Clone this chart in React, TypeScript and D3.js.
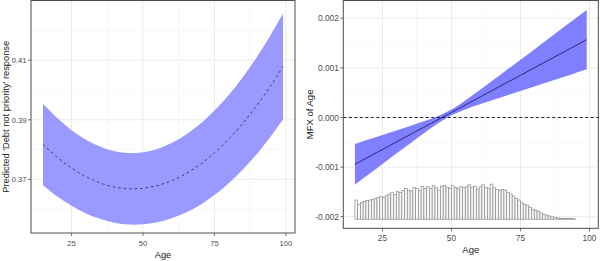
import React from 'react';
import * as d3 from 'd3';

// ---- data ----
const ages = [15, 20, 25, 30, 35, 40, 45, 50, 55, 60, 65, 70, 75, 80, 85, 90, 95, 99];
const predFit = [0.3817, 0.3774, 0.3738, 0.3709, 0.3688, 0.3674, 0.3668, 0.367, 0.3679, 0.3695, 0.3719, 0.375, 0.3789, 0.3835, 0.3889, 0.395, 0.4019, 0.4079];
const predLower = [0.368, 0.3642, 0.3611, 0.3585, 0.3567, 0.3554, 0.3548, 0.3549, 0.3556, 0.3569, 0.3588, 0.3614, 0.3647, 0.3687, 0.3734, 0.3787, 0.3848, 0.3901];
const predUpper = [0.3954, 0.3906, 0.3865, 0.3833, 0.381, 0.3794, 0.3788, 0.3791, 0.3802, 0.3822, 0.385, 0.3886, 0.3931, 0.3983, 0.4044, 0.4113, 0.419, 0.4257];

const mfxFit = [-0.000944, -0.000794, -0.000645, -0.000495, -0.000346, -0.000196, -0.000047, 0.000103, 0.000253, 0.000402, 0.000552, 0.000701, 0.000851, 0.001, 0.00115, 0.0013, 0.001449, 0.001569];
const mfxLower = [-0.001353, -0.001144, -0.000936, -0.000728, -0.000522, -0.000316, -0.00012, 0.000047, 0.000163, 0.00026, 0.000354, 0.000445, 0.000536, 0.000627, 0.000718, 0.000808, 0.000898, 0.000971];
const mfxUpper = [-0.000535, -0.000444, -0.000354, -0.000262, -0.00017, -0.000076, 0.000026, 0.000159, 0.000343, 0.000544, 0.00075, 0.000957, 0.001166, 0.001373, 0.001582, 0.001792, 0.002, 0.002167];

// histogram of ages, one-year bins starting at age 15
const histStart = 15;
const histCounts = [
  193, 150, 170, 180, 187, 193, 200, 210, 220, 227,
  220, 237, 253, 267, 250, 277, 270, 287, 310, 293,
  283, 320, 310, 287, 330, 307, 327, 310, 337, 317,
  293, 333, 340, 323, 310, 337, 320, 307, 330, 317,
  327, 347, 320, 333, 303, 327, 347, 320, 307, 353,
  317, 300, 287, 300, 293, 267, 253, 233, 210, 193,
  165, 150, 140, 120, 100, 90, 77, 62, 50, 40,
  33, 25, 17, 12, 10, 7, 7, 6, 6, 3,
  0, 0, 0, 0,
];
const histBase = -0.00205;
const histUnit = 0.000002; // MFX units per count

const xTicks = [25, 50, 75, 100];
const xMinor = [37.5, 62.5, 87.5];
const predTicks = [0.37, 0.39, 0.41];
const predMinor = [0.36, 0.38, 0.4, 0.42];
const mfxTicks = [-0.002, -0.001, 0, 0.001, 0.002];
const mfxMinor = [-0.0015, -0.0005, 0.0005, 0.0015];

const FONT = "'Liberation Sans', Arial, sans-serif";

type PanelProps = {
  left: number; right: number; top: number; bottom: number;
  yDomain: [number, number];
  yTicks: number[]; yMinor: number[];
  fmt: (v: number) => string;
  yTitle: string; yTitleX: number;
  tickFont: number; titleFont: number;
  children: (x: d3.ScaleLinear<number, number>, y: d3.ScaleLinear<number, number>) => React.ReactNode;
};

function Panel(p: PanelProps) {
  const x = d3.scaleLinear().domain([10.8, 103.2]).range([p.left, p.right]);
  const y = d3.scaleLinear().domain(p.yDomain).range([p.bottom, p.top]);
  return (
    <g>
      {xMinor.map((v) => (
        <line key={'xm' + v} x1={x(v)} x2={x(v)} y1={p.top} y2={p.bottom} stroke="#f2f2f2" strokeWidth={0.6} />
      ))}
      {p.yMinor.map((v) => (
        <line key={'ym' + v} x1={p.left} x2={p.right} y1={y(v)} y2={y(v)} stroke="#f2f2f2" strokeWidth={0.6} />
      ))}
      {xTicks.map((v) => (
        <line key={'xg' + v} x1={x(v)} x2={x(v)} y1={p.top} y2={p.bottom} stroke="#ebebeb" strokeWidth={1} />
      ))}
      {p.yTicks.map((v) => (
        <line key={'yg' + v} x1={p.left} x2={p.right} y1={y(v)} y2={y(v)} stroke="#ebebeb" strokeWidth={1} />
      ))}
      {p.children(x, y)}
      <rect x={p.left} y={p.top} width={p.right - p.left} height={p.bottom - p.top} fill="none" stroke="#4d4d4d" strokeWidth={1} />
      {xTicks.map((v) => (
        <g key={'xt' + v}>
          <line x1={x(v)} x2={x(v)} y1={p.bottom} y2={p.bottom + 3} stroke="#4d4d4d" strokeWidth={0.8} />
          <text x={x(v)} y={p.bottom + 12.5} textAnchor="middle" fontSize={p.tickFont} fill="#4d4d4d" fontFamily={FONT}>{v}</text>
        </g>
      ))}
      {p.yTicks.map((v) => (
        <g key={'yt' + v}>
          <line x1={p.left - 3} x2={p.left} y1={y(v)} y2={y(v)} stroke="#4d4d4d" strokeWidth={0.8} />
          <text x={p.left - 4.5} y={y(v) + 3} textAnchor="end" fontSize={p.tickFont} fill="#4d4d4d" fontFamily={FONT}>{p.fmt(v)}</text>
        </g>
      ))}
      <text x={(p.left + p.right) / 2} y={p.bottom + 24.5} textAnchor="middle" fontSize={p.titleFont} fill="#1a1a1a" fontFamily={FONT}>Age</text>
      <text transform={`translate(${p.yTitleX},${(p.top + p.bottom) / 2}) rotate(-90)`} textAnchor="middle" fontSize={p.titleFont} fill="#1a1a1a" fontFamily={FONT}>{p.yTitle}</text>
    </g>
  );
}

export default function App() {
  const predArea = (x: any, y: any) =>
    d3.area<number>().x((_, i) => x(ages[i])).y0((_, i) => y(predLower[i])).y1((_, i) => y(predUpper[i])).curve(d3.curveCatmullRom)(ages) || '';
  const predLine = (x: any, y: any) =>
    d3.line<number>().x((_, i) => x(ages[i])).y((_, i) => y(predFit[i])).curve(d3.curveCatmullRom)(ages) || '';
  const mfxArea = (x: any, y: any) =>
    d3.area<number>().x((_, i) => x(ages[i])).y0((_, i) => y(mfxLower[i])).y1((_, i) => y(mfxUpper[i])).curve(d3.curveCatmullRom)(ages) || '';
  const mfxLine = (x: any, y: any) =>
    d3.line<number>().x((_, i) => x(ages[i])).y((_, i) => y(mfxFit[i]))(ages) || '';

  return (
    <svg width={600} height={261} style={{ position: 'fixed', left: 0, top: 0, background: '#fff' }}>
      <rect x={0} y={0} width={600} height={261} fill="#fff" />
      <Panel
        left={31} right={295} top={0.5} bottom={233}
        yDomain={[0.37 - (233 - 179.3) / 2975, 0.41 + (60.3 - 0.5) / 2975]}
        yTicks={predTicks} yMinor={predMinor}
        fmt={(v) => v.toFixed(2)}
        yTitle="Predicted 'Debt not priority' response" yTitleX={8.5}
        tickFont={7.6} titleFont={9.3}
      >
        {(x, y) => (
          <g>
            <path d={predArea(x, y)} fill="#9999ff" />
            <path d={predLine(x, y)} fill="none" stroke="#2e2e70" strokeWidth={0.9} strokeDasharray="2.5,3" />
          </g>
        )}
      </Panel>
      <Panel
        left={343.3} right={598.3} top={0.5} bottom={228.3}
        yDomain={[-0.002 - (228.3 - 216.7) / 49600, 0.002 + (18.3 - 0.5) / 49600]}
        yTicks={mfxTicks} yMinor={mfxMinor}
        fmt={(v) => v.toFixed(3)}
        yTitle="MFX of Age" yTitleX={313}
        tickFont={8.3} titleFont={9.5}
      >
        {(x, y) => (
          <g>
            <path d={mfxArea(x, y)} fill="#7f7fff" />
            <path d={mfxLine(x, y)} fill="none" stroke="#1f1f6a" strokeWidth={0.9} />
            {histCounts.map((c, i) => (
              <rect key={'h' + i}
                x={x(histStart + i)} width={x(histStart + i + 1) - x(histStart + i)}
                y={y(histBase + c * histUnit)} height={y(histBase) - y(histBase + c * histUnit)}
                fill="#f7f7f7" stroke="#8c8c8c" strokeWidth={0.7} />
            ))}
            <line x1={x(10.8)} x2={x(103.2)} y1={y(0)} y2={y(0)} stroke="#111" strokeWidth={0.9} strokeDasharray="3,2.5" />
          </g>
        )}
      </Panel>
    </svg>
  );
}
